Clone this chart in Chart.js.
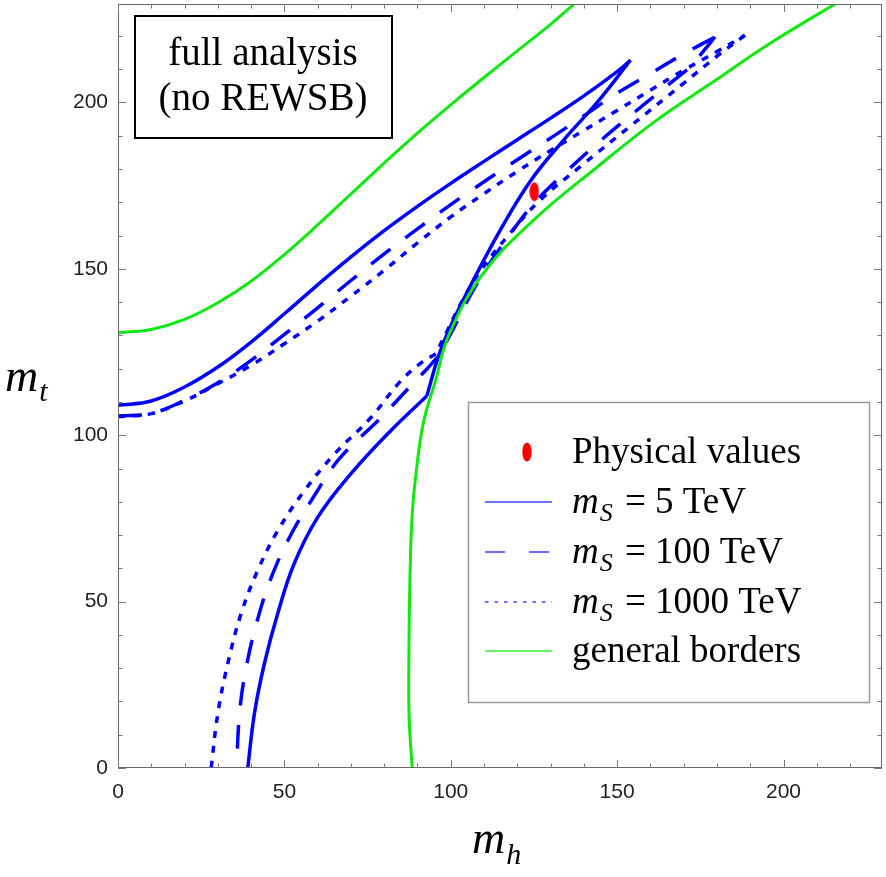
<!DOCTYPE html>
<html>
<head>
<meta charset="utf-8">
<title>mt vs mh, full analysis (no REWSB)</title>
<script src="https://cdn.jsdelivr.net/npm/chart.js@4.4.1/dist/chart.umd.min.js"></script>
<style>
html,body{margin:0;padding:0;background:#fff;}
</style>
</head>
<body>
<canvas id="plot" width="886" height="877"></canvas>
<script>
// physical values (m_h, m_t)
var physical=[[125.1,173.2]];

// m_S = 5 TeV: upper branch, way back from the tip, lower branch
var ms5Upper=[[0,109],[10,110.3],[20,114.5],[30,120.5],[40,128],[50,136.5],[60,145.2],[70,153.6],[80,161.5],[90,168.8],[100,175.7],[110,182.3],[120,188.8],[130,195.3],[140,202],[150,209.3],[154,212.7]];
var ms5Back=[[154,212.7],[144,200],[134,188.8],[124,176.5],[114.5,161],[107,147],[100.5,134],[96.5,124.3],[92.8,111.8]];
var ms5Lower=[[92.8,111.8],[81.9,101.3],[69.9,88.3],[60,75.3],[52.9,61.3],[48,46.4],[44,31.4],[41,16.4],[39,0]];

// m_S = 100 TeV
var ms100Upper=[[0,105.8],[10,106.6],[20,110.5],[30,115.8],[40,122.5],[50,130.3],[60,138.3],[70,146.5],[80,154.5],[90,162],[100,169.3],[110,176.2],[120,182.8],[130,189.3],[140,196],[150,202.8],[160,208.7],[170,214.6],[179.4,219.7]];
var ms100Back=[[179.4,219.7],[176,215.5],[172,210.8],[166.2,206],[155.5,197.3],[145,188.5],[134.7,179.2],[125.3,170],[116.7,158.8],[110,149],[104.5,139.5],[100,130.5],[96,123.5]];
var ms100Lower=[[96,123.5],[92,119],[88.4,115.3],[78.9,105.2],[66.4,92.8],[58.8,81.5],[51.8,69.8],[46,57.1],[41.8,44.1],[38.6,30.6],[36.6,17.2],[35.6,0]];

// m_S = 1000 TeV
var ms1000Upper=[[0,105.6],[10,106.5],[20,110.3],[30,115.5],[40,121],[50,127.5],[60,134.3],[70,141.8],[80,149.6],[90,157.8],[100,165.6],[110,172.6],[120,179.3],[130,185.6],[140,191.6],[150,197.6],[160,203.7],[170,209.7],[180,215.3],[188.4,220.2]];
var ms1000Back=[[188.4,220.2],[180.4,214.2],[169.4,205.3],[154.5,193.3],[139.5,181.2],[126.5,170.3],[117.5,160.3],[109,149.5],[103.5,140.5],[99,131.5],[95.5,124.5]];
var ms1000Lower=[[95.5,124.5],[90.5,121.3],[84.5,115.8],[75.9,105.2],[65,94.3],[56,83.3],[48,71.3],[42,59.4],[37,46.4],[33,31.4],[30,16.4],[28,0]];

// general borders
var bordersUpper=[[0,130.8],[10,131.8],[20,134.8],[30,139.8],[40,146.3],[50,154.3],[60,163.2],[70,172.5],[80,181.8],[90,190.8],[100,199.3],[110,207.5],[120,215.5],[130,223.5],[137,229.5]];
var bordersLower=[[88.4,0],[87.5,15],[87.4,30],[87.7,55],[88.4,76],[89.9,91.4],[91.9,104.3],[95.4,116.3],[99.5,130.3],[109.5,148.3],[124.5,164.3],[144.5,181],[161.5,194.4],[178,205.6],[196,217.8],[217,230.5]];

var xTicks=[0,50,100,150,200];
var yTicks=[0,50,100,150,200];
var axisMax=229.6;

var legendLabels=['Physical values','5 TeV','100 TeV','1000 TeV','general borders'];

var blue='#0000ff', green='#10e810';

var dot=document.createElement('canvas');
dot.width=10;dot.height=20;
var dc=dot.getContext('2d');
dc.fillStyle='#ff0000';
dc.beginPath();dc.ellipse(5,10,4.7,9.6,0,0,2*Math.PI);dc.fill();

function pts(a){return a.map(function(p){return {x:p[0],y:p[1]};});}
function curve(a,color,dash,width){
  return {data:pts(a),showLine:true,pointRadius:0,tension:0.4,fill:false,
    borderColor:color,borderWidth:width||3.5,borderDash:dash||[],borderCapStyle:'butt',borderJoinStyle:'round'};
}

function seg(ctx,x1,y1,x2,y2){ctx.beginPath();ctx.moveTo(x1,y1);ctx.lineTo(x2,y2);ctx.stroke();}

function mathLabel(ctx,x,y,base,sub,size,subSize,dy){
  ctx.font='italic '+size+'px "Liberation Serif"';
  ctx.fillText(base,x,y);
  x+=ctx.measureText(base).width+1;
  ctx.font='italic '+subSize+'px "Liberation Serif"';
  ctx.fillText(sub,x,y+dy);
  return x+ctx.measureText(sub).width;
}

var decor={
  id:'decor',
  afterDraw:function(chart){
    var ctx=chart.ctx, a=chart.chartArea, sx=chart.scales.x, sy=chart.scales.y;
    ctx.save();
    // frame and inward ticks
    ctx.strokeStyle='#666';ctx.lineWidth=1;
    ctx.strokeRect(a.left+0.5,a.top+0.5,a.right-a.left-1,a.bottom-a.top-1);
    ctx.strokeStyle='#777';
    for(var v=0;v<=axisMax;v+=10){
      var len=(v%50===0)?8:4.5;
      var px=Math.round(sx.getPixelForValue(v))+0.5;
      seg(ctx,px,a.bottom,px,a.bottom-len);seg(ctx,px,a.top,px,a.top+len);
      var py=Math.round(sy.getPixelForValue(v))+0.5;
      seg(ctx,a.left,py,a.left+len,py);seg(ctx,a.right,py,a.right-len,py);
    }
    // axis titles
    ctx.fillStyle='#000';ctx.textBaseline='alphabetic';ctx.textAlign='left';
    mathLabel(ctx,5,391,'m','t',46,30,10);
    mathLabel(ctx,472,853,'m','h',46,30,11);
    // annotation box
    ctx.fillStyle='#fff';ctx.fillRect(135,16,257,122);
    ctx.strokeStyle='#000';ctx.lineWidth=2;ctx.strokeRect(135,16,257,122);
    ctx.fillStyle='#000';ctx.textAlign='center';
    ctx.font='39px "Liberation Serif"';
    ctx.fillText('full analysis',263,65);
    ctx.fillText('(no REWSB)',263,110);
    // legend
    ctx.textAlign='left';
    ctx.fillStyle='#fff';ctx.fillRect(468.5,402.5,401,300);
    ctx.strokeStyle='#999';ctx.lineWidth=1.5;ctx.strokeRect(468.5,402.5,401,300);
    var rowY=[463,513,563,613,662];
    ctx.drawImage(dot,527-5,452-10,10,20);
    var samples=[null,{c:'#4040ff',d:[]},{c:'#4040ff',d:[20,24]},{c:'#4040ff',d:[3.5,6]},{c:'#30f030',d:[]}];
    for(var i=1;i<samples.length;i++){
      ctx.strokeStyle=samples[i].c;ctx.lineWidth=1.6;ctx.setLineDash(samples[i].d);
      seg(ctx,485,rowY[i]-11,552,rowY[i]-11);
    }
    ctx.setLineDash([]);
    ctx.fillStyle='#000';
    ctx.font='37px "Liberation Serif"';
    ctx.fillText(legendLabels[0],572,rowY[0]);
    for(var j=1;j<=3;j++){
      var x=mathLabel(ctx,572,rowY[j],'m','S',37,26,8);
      ctx.font='37px "Liberation Serif"';
      ctx.fillText(' = '+legendLabels[j],x+3,rowY[j]);
    }
    ctx.font='37px "Liberation Serif"';
    ctx.fillText(legendLabels[4],572,rowY[4]);
    ctx.restore();
  }
};

new Chart(document.getElementById('plot'),{
  type:'scatter',
  data:{datasets:[
    curve(bordersUpper,green,[],3),
    curve(bordersLower,green,[],3),
    curve(ms5Upper,blue),
    curve(ms5Back,blue),
    curve(ms5Lower,blue),
    curve(ms100Upper,blue,[24,19]),
    curve(ms100Back,blue,[24,19]),
    curve(ms100Lower,blue,[24,19]),
    curve(ms1000Upper,blue,[7,8]),
    curve(ms1000Back,blue,[7,8]),
    curve(ms1000Lower,blue,[7,8]),
    // tiny radius so the point does not widen the layout; the ellipse image is drawn at its own size
    {data:pts(physical),pointStyle:dot,pointRadius:0.2,pointBorderWidth:0,showLine:false}
  ]},
  options:{
    responsive:false,
    animation:false,
    layout:{padding:{top:2,right:2,left:0,bottom:0}},
    plugins:{legend:{display:false},tooltip:{enabled:false}},
    scales:{
      x:{type:'linear',min:0,max:axisMax,
        afterBuildTicks:function(s){s.ticks=xTicks.map(function(v){return {value:v};});},
        afterFit:function(s){s.height=109;s.paddingLeft=0;s.paddingRight=0;},
        grid:{display:false,drawTicks:false},border:{display:false},
        ticks:{font:{family:'Liberation Sans',size:21},color:'#222',padding:12,maxRotation:0,autoSkip:false}},
      y:{type:'linear',min:0,max:axisMax,
        afterBuildTicks:function(s){s.ticks=yTicks.map(function(v){return {value:v};});},
        afterFit:function(s){s.width=118;s.paddingTop=0;s.paddingBottom=0;},
        grid:{display:false,drawTicks:false},border:{display:false},
        ticks:{font:{family:'Liberation Sans',size:21},color:'#222',padding:10}}
    }
  },
  plugins:[decor]
});
</script>
</body>
</html>
